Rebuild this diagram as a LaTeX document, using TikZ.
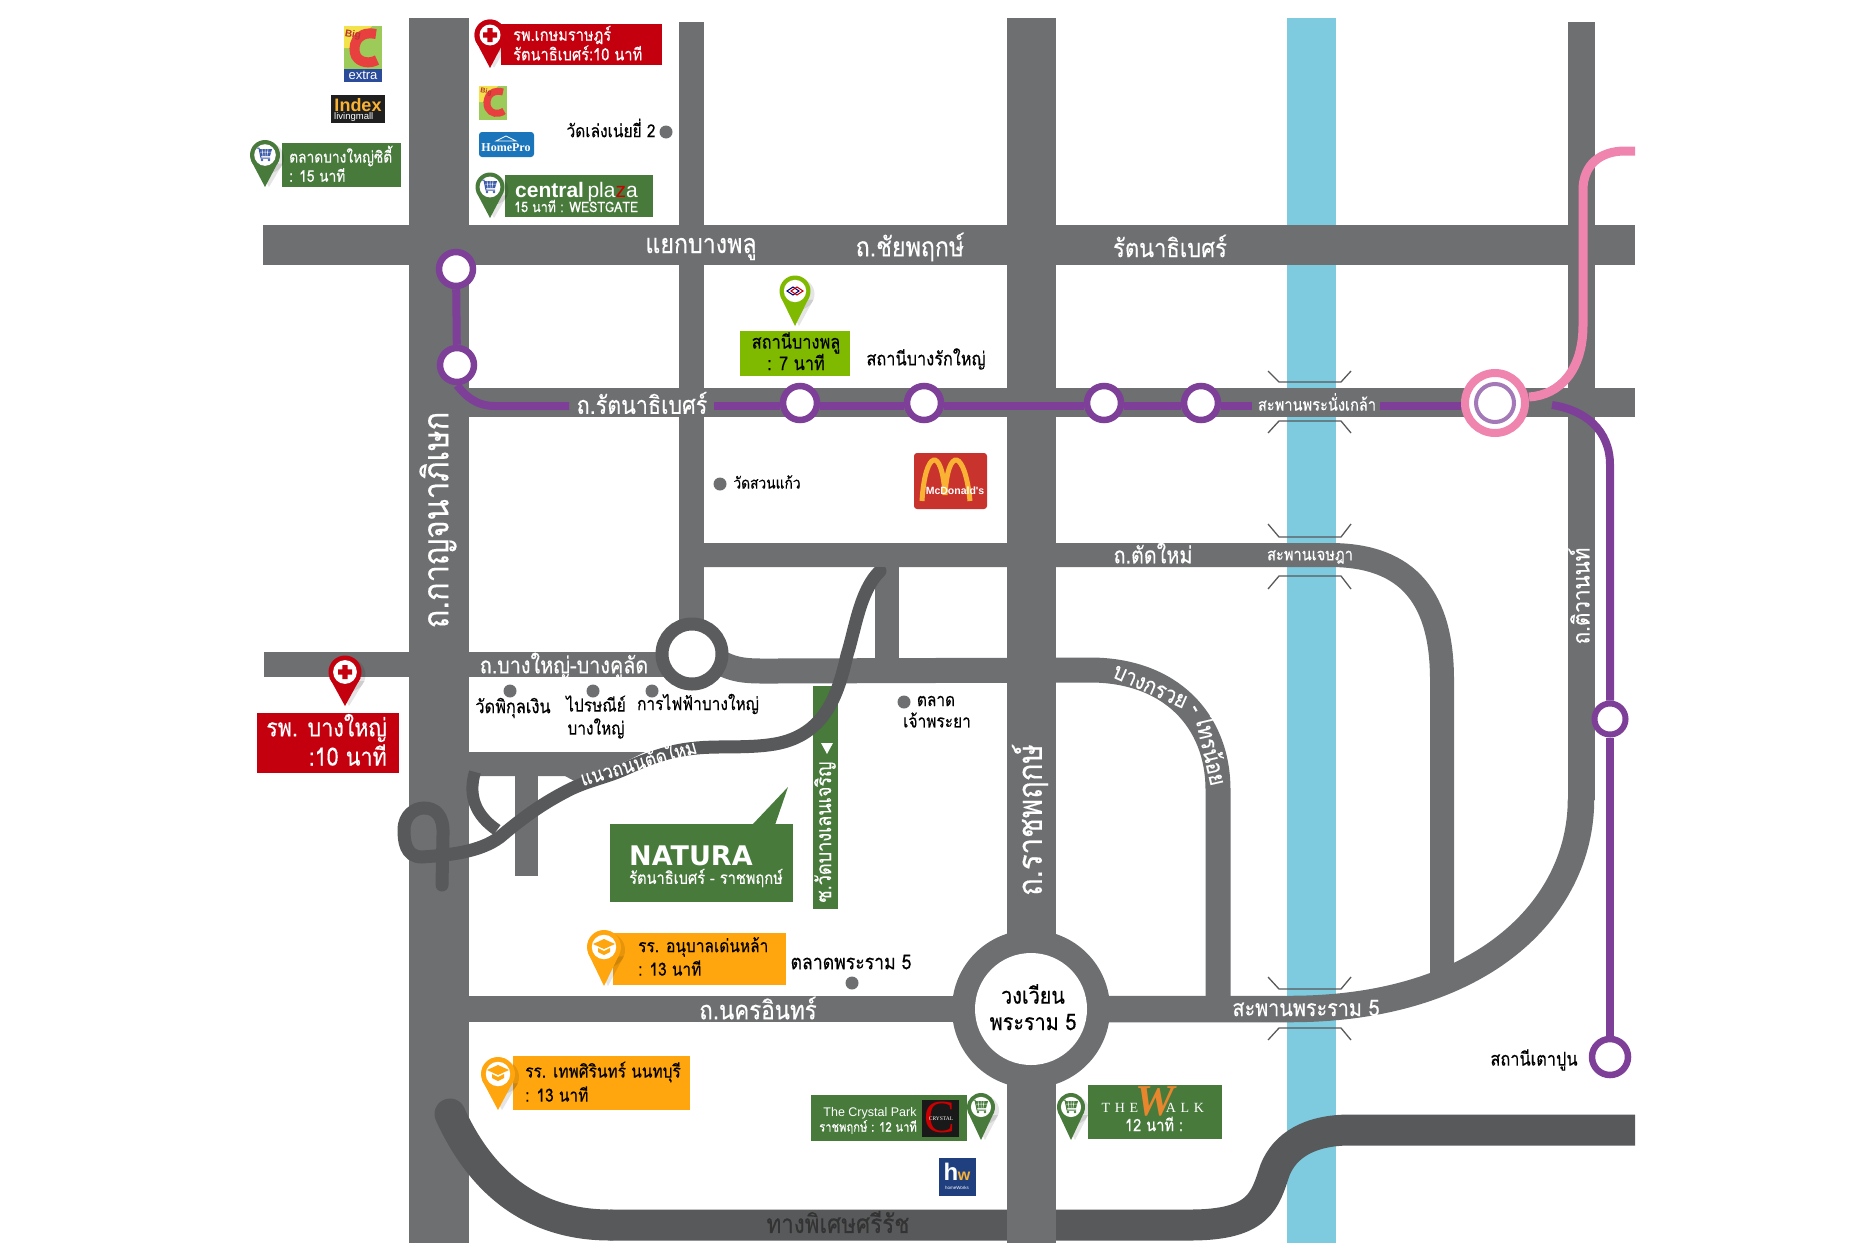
\documentclass[tikz,border=0pt]{standalone}
\usepackage{fontspec}
\setmainfont[Script=Thai,FakeStretch=0.86,FakeBold=0.35]{Loma}
\newfontfamily\logosans{Liberation Sans}
\newfontfamily\logoserif{Liberation Serif}
\newfontfamily\wideb{DejaVu Sans}
\usetikzlibrary{calc}
\definecolor{roadc}{HTML}{6D6F71}
\definecolor{darkroad}{HTML}{58595B}
\definecolor{rivc}{HTML}{7ECBDF}
\definecolor{purp}{HTML}{7D3F98}
\definecolor{pinkc}{HTML}{EF84AF}
\definecolor{greenc}{HTML}{477A3B}
\definecolor{lime}{HTML}{7FBA00}
\definecolor{redc}{HTML}{C4000F}
\definecolor{orangec}{HTML}{FFA50D}
\definecolor{bigg}{HTML}{9CCB5A}
\definecolor{bigy}{HTML}{F2E34C}
\definecolor{bigr}{HTML}{E8403F}
\definecolor{bigb}{HTML}{2B4C9B}
\definecolor{mcr}{HTML}{C8332E}
\definecolor{mcy}{HTML}{F9B233}
\definecolor{hwb}{HTML}{1F3F7F}
\definecolor{hpb}{HTML}{1B75BB}
\definecolor{cartb}{HTML}{3B5BA9}
\definecolor{walko}{HTML}{E8862E}
\newcommand\fs[1]{\fontsize{#1}{#1}\selectfont}
\newcommand\mappin[5]{%
 \fill[black,opacity=.10] (#1+4,#2+3) circle (#3);
 \fill[black,opacity=.10] ({#1+4-.93*#3},{#2+3+.37*#3}) -- (#1+4,#4) -- ({#1+4+.93*#3},{#2+3+.37*#3}) -- cycle;
 \fill[#5] (#1,#2) circle (#3);
 \fill[#5] ({#1-.93*#3},{#2+.37*#3}) -- (#1,#4) -- ({#1+.93*#3},{#2+.37*#3}) -- cycle;
 \fill[white] (#1,#2) circle ({.72*#3});}
\newcommand\cartat[3]{%
 \fill[#3] (#1-6,#2-5) -- (#1+7,#2-5) -- (#1+5,#2+2) -- (#1-4,#2+2) -- cycle;
 \draw[#3,line width=1] (#1-8,#2-6) -- (#1-6,#2-6) -- (#1-4,#2+4) -- (#1+5,#2+4);
 \fill[#3] (#1-3,#2+6) circle (1.4) (#1+4,#2+6) circle (1.4);
 \draw[white,line width=.5] (#1-3,#2-5) -- (#1-2,#2+2) (#1,#2-5) -- (#1,#2+2) (#1+3,#2-5) -- (#1+2,#2+2) (#1-5,#2-2) -- (#1+6,#2-2);}
\newcommand\crossat[2]{\fill[redc] (#1-7,#2-2.6) rectangle (#1+7,#2+2.6) (#1-2.6,#2-7) rectangle (#1+2.6,#2+7);}
\newcommand\capat[2]{%
 \fill[orangec] (#1-11,#2-2) -- (#1,#2-7) -- (#1+11,#2-2) -- (#1,#2+3) -- cycle;
 \fill[orangec] (#1-6,#2+2) -- (#1,#2+5) -- (#1+6,#2+2) -- (#1+6,#2+6) -- (#1,#2+9) -- (#1-6,#2+6) -- cycle;}
\tikzset{
 x=1pt,y=-1pt,
 road/.style={draw=roadc,line width=#1},
 road/.default=26,
 droad/.style={draw=darkroad,line width=#1},
 roadlab/.style={text=white,inner sep=0pt,font=\fs{#1}},
 blklab/.style={text=black,inner sep=0pt,font=\fs{#1}},
 station/.style={circle,draw=purp,line width=6.5,fill=white,minimum size=34,inner sep=0pt},
 pline/.style={draw=purp,line width=8},
 bridge/.style={draw=darkroad,line width=1.3},
 dotm/.style={circle,fill=roadc,inner sep=0pt,minimum size=13},
 boxlab/.style={inner sep=0pt,anchor=west,align=left}
}
\begin{document}
\begin{tikzpicture}
\useasboundingbox (0,0) rectangle (1862,1250);
% river
\fill[rivc] (1287,18) rectangle (1336,1243);
% straight roads
\fill[roadc] (263,225) rectangle (1635,265);
\fill[roadc] (469,388) rectangle (1635,417);
\fill[roadc] (264,652) rectangle (670,677);
\fill[roadc] (679,22) rectangle (704,640);
\fill[roadc] (469,752) -- (645,752) -- (580,784) -- (565,776) -- (469,776) -- cycle;
\fill[roadc] (515,760) rectangle (538,876);
\fill[roadc] (469,996) rectangle (960,1022);
\fill[roadc] (875,560) rectangle (899,670);
\draw[road=24] (700,555) -- (1330,555) .. controls (1410,555) and (1442,600) .. (1442,680) -- (1442,975);
\draw[road=25] (716,660) .. controls (735,672) and (750,671) .. (775,671) -- (1090,670) .. controls (1170,670) and (1218,720) .. (1218,790) -- (1218,1005);
\fill[roadc] (1568,22) rectangle (1595,800);
\draw[road=26.5] (1100,1009) -- (1290,1009) .. controls (1480,1009) and (1581,910) .. (1581,799);
\fill[roadc] (409,18) rectangle (469,1243);
% highway
\draw[droad=31] (610,1225) -- (1190,1225) .. controls (1260,1225) and (1265,1200) .. (1275,1170) .. controls (1285,1145) and (1310,1130) .. (1350,1130) -- (1635,1130);
\draw[droad=31,line cap=round] (450,1114) .. controls (480,1180) and (530,1225) .. (610,1225);
\fill[roadc] (1007,18) rectangle (1056,1243);
% roundabouts
\fill[roadc] (1031,1009) circle (79);
\node[circle,fill=white,minimum size=112,inner sep=0pt] (rama5) at (1031,1009) {};
\node[circle,draw=darkroad!85!roadc,line width=13,fill=white,minimum size=60,inner sep=0pt] (rbsmall) at (692,654) {};
% soi
\fill[greenc] (813,686) rectangle (838,909);
% new road
\draw[droad=12] (475,772) .. controls (468,795) and (475,815) .. (497,830);
\draw[droad=13,line cap=round] (880,571) .. controls (860,590) and (855,630) .. (847,655) .. controls (838,695) and (825,735) .. (775,744) .. controls (745,749) and (715,745) .. (688,749) .. controls (665,752) and (645,760) .. (625,769) .. controls (605,778) and (585,781) .. (565,792) .. controls (540,805) and (520,820) .. (500,837) .. controls (480,852) and (450,855) .. (422,857) .. controls (405,857) and (404,840) .. (404,830) .. controls (404,815) and (415,808) .. (424,808) .. controls (435,808) and (444,815) .. (443,835) -- (442,885);
\fill[roadc] (860,543) rectangle (900,567);
% bridges
\foreach \ya/\yb in {371/382,433/421,524/537,589/576,977/989,1040/1028}
 \draw[bridge] (1268,\ya) -- (1279,\yb) -- (1341,\yb) -- (1351,\ya);
\coordinate (pinkend) at (1635,151);
% stations
\node[station] (s1) at (456,269) {};
\node[station] (s2) at (457,365) {};
\node[station] (s3) at (800,403) {};
\node[station] (s4) at (924,403) {};
\node[station] (s5) at (1104,403) {};
\node[station] (s6) at (1201,403) {};
\node[circle,draw=pinkc,line width=8,fill=white,minimum size=60,inner sep=0pt] (hub) at (1495,403) {};
\node[circle,draw=purp!70!white,line width=4,minimum size=38,inner sep=0pt] (hubin) at (1495,403) {};
\node[station,minimum size=31,line width=6] (s7) at (1610,719) {};
\node[station,minimum size=36] (s8) at (1610,1057) {};
\coordinate (gapa) at (569,406);
\coordinate (gapb) at (714,406);
\coordinate (gapc) at (1252,406);
\coordinate (gapd) at (1380,406);
\coordinate (purpstart) at (1552,405);
\draw[pline] (s1) -- (s2);
\draw[pline] (s2.south) .. controls (465,395) and (475,406) .. (495,406) -- (gapa);
\draw[pline] (gapb) -- ([yshift=-3pt]s3.west);
\draw[pline] ([yshift=-3pt]s3.east) -- ([yshift=-3pt]s4.west);
\draw[pline] ([yshift=-3pt]s4.east) -- ([yshift=-3pt]s5.west);
\draw[pline] ([yshift=-3pt]s5.east) -- ([yshift=-3pt]s6.west);
\draw[pline] ([yshift=-3pt]s6.east) -- (gapc);
\draw[pline] (gapd) -- ([yshift=-3pt]hub.west);
\draw[draw=pinkc,line width=9] (hub.east) ++(0,-6) .. controls (1560,395) and (1583,370) .. (1583,325) -- (1583,190) .. controls (1583,165) and (1600,151) .. (1625,151) -- (pinkend);
\draw[pline] (purpstart) .. controls (1585,410) and (1610,430) .. (1610,465) -- (s7);
\draw[pline] (s7) -- (s8);
% road labels
\node[roadlab=27] (l1) at (701,249) {แยกบางพลู};
\node[roadlab=27] (l2) at (910,247) {ถ.ชัยพฤกษ์};
\node[roadlab=25.5] (l3) at (1170,246) {รัตนาธิเบศร์};
\node[roadlab=25] (l4) at (642,403) {ถ.รัตนาธิเบศร์};
\node[roadlab=17] (l5) at (1317,402) {สะพานพระนั่งเกล้า};
\node[roadlab=23] (l7) at (1153,553) {ถ.ตัดใหม่};
\node[roadlab=17] (l8) at (1310,557) {สะพานเจษฎา};
\node[roadlab=23] (l9) at (564,666) {ถ.บางใหญ่-บางคูลัด};
\node[roadlab=36,rotate=90] (l6) at (438,520) {ถ.กาญจนาภิเษก};
\node[roadlab=24,rotate=90] (l10) at (1579,596) {ถ.ติวานนท์};
\node[roadlab=23,rotate=-24] (l11) at (1150,687) {บางกรวย};
\node[roadlab=23,rotate=-60] (l12) at (1193,710) {-};
\node[roadlab=23,rotate=-77] (l13) at (1213,750) {ไทรน้อย};
\node[roadlab=34,rotate=90] (l14) at (1030,820) {ถ.ราชพฤกษ์};
\node[roadlab=23] (l15) at (1306,1008) {สะพานพระราม 5};
\node[roadlab=26] (l16) at (758,1008) {ถ.นครอินทร์};
\node[roadlab=20,rotate=16] (l17) at (638,761) {แนวถนนตัดใหม่};
\node[blklab=26,text=black!80] (l18) at (838,1222) {ทางพิเศษศรีรัช};
\node[blklab=23] (l19) at (1033,994) {วงเวียน};
\node[blklab=23] (l20) at (1033,1022) {พระราม 5};
\node[roadlab=21,rotate=90,text=white] (l21) at (825,832) {ซ.วัดบางเลนเจริญ};
\fill[white] (821,743) -- (833,743) -- (827,754) -- cycle;
% black labels with dots
\node[blklab=18] (t1) at (611,128) {วัดเล่งเน่ยยี่ 2};
\node[dotm] (d1) at (666,132) {};
\node[dotm] (d2) at (720,484) {};
\node[blklab=16] (t2) at (767,482) {วัดสวนแก้ว};
\node[dotm] (d3) at (510,691) {};
\node[blklab=19] (t3) at (513,708) {วัดพิกุลเงิน};
\node[dotm] (d4) at (593,691) {};
\node[blklab=18,align=center] (t4) at (596,717) {ไปรษณีย์\\[5pt]บางใหญ่};
\node[dotm] (d5) at (652,691) {};
\node[blklab=18] (t5) at (698,704) {การไฟฟ้าบางใหญ่};
\node[dotm] (d6) at (904,702) {};
\node[blklab=18] (t6) at (936,701) {ตลาด};
\node[blklab=18] (t7) at (937,720) {เจ้าพระยา};
\node[blklab=20.5] (t8) at (851,962) {ตลาดพระราม 5};
\node[dotm] (d7) at (852,983) {};
\node[blklab=19] (t9) at (926,359) {สถานีบางรักใหญ่};
\node[blklab=19] (t10) at (1534,1060) {สถานีเตาปูน};
% red kasemrad
\mappin{490}{35}{15.5}{68}{redc}
\fill[redc] (501,24) rectangle (662,65);
\fill[redc] (490,35) circle (15.5);
\fill[white] (490,35) circle (10.5);
\crossat{490}{35}
\node[boxlab,text=white,font=\fs{17}] (b1) at (513,35) {รพ.เกษมราษฎร์};
\node[boxlab,text=white,font=\fs{17}] (b2) at (513,53) {รัตนาธิเบศร์:10 นาที};
% green bangyai city
\fill[greenc] (282,143) rectangle (401,187);
\mappin{265}{155}{15}{187}{greenc}
\cartat{265}{154}{cartb}
\node[boxlab,text=white,font=\fs{16}] (b3) at (289,156) {ตลาดบางใหญ่ซิตี้};
\node[boxlab,text=white,font=\fs{16}] (b4) at (289,175) {: 15 นาที};
% central plaza
\fill[greenc] (505,175) rectangle (653,217);
\mappin{490}{187}{14.5}{218}{greenc}
\cartat{490}{186}{cartb}
\node[boxlab,text=white,font=\logosans\fs{21}] (b5) at (515,192) {\textbf{central}\,pla{\color{red!80!black}z}a};
\node[boxlab,text=white,font=\fs{14.5}] (b6) at (514,206) {15 นาที : WESTGATE};
% logos
\fill[bigg] (344,26) rectangle (382,70);
\fill[bigy] (344,26) -- (372,26) -- (350,48) -- (344,48) -- cycle;
\draw[bigr,line width=10] (376,34) .. controls (355,30) and (352,48) .. (356,56) .. controls (360,63) and (370,64) .. (377,60);
\node[inner sep=0pt,text=bigr!80!black,font=\logosans\bfseries\fs{10},rotate=-10] (bc1) at (353,35) {Big};
\fill[bigb] (344,69) rectangle (382,82);
\node[inner sep=0pt,text=white,font=\logosans\fs{13}] (bc2) at (363,75) {extra};
\fill[black!88] (331,95) rectangle (385,123);
\node[inner sep=0pt,text=mcy,font=\logosans\bfseries\fs{18}] (ix1) at (358,105) {Index};
\node[inner sep=0pt,anchor=west,text=white,font=\logosans\fs{9.5}] (ix2) at (334,117) {livingmall};
\fill[bigg] (479,86) rectangle (507,120);
\fill[bigy] (479,86) -- (498,86) -- (483,102) -- (479,102) -- cycle;
\draw[bigr,line width=7] (503,92) .. controls (488,88) and (485,102) .. (488,108) .. controls (491,114) and (498,115) .. (504,111);
\node[inner sep=0pt,text=bigr!80!black,font=\logosans\bfseries\fs{7},rotate=-10] (bc3) at (486,92) {Big};
\fill[hpb,rounded corners=3] (479,132) rectangle (534,157);
\node[inner sep=0pt,text=white,font=\logoserif\bfseries\fs{12}] (hp) at (506,148) {HomePro};
\draw[white,line width=.7] (496,141) -- (506,136) -- (516,141) -- cycle;
% station box
\mappin{795}{291}{15.5}{326}{lime}
\draw[blue!50!black,line width=1] (787,291) -- (793,287) -- (799,291) -- (793,295) -- cycle;
\draw[red!80!black,line width=1] (791,291) -- (797,287) -- (803,291) -- (797,295) -- cycle;
\fill[lime] (740,331) rectangle (850,376);
\node[blklab=19] (b7) at (796,343) {สถานีบางพลู};
\node[blklab=19] (b8) at (796,362) {: 7 นาที};
% McDonalds
\fill[mcr,rounded corners=3] (914,453) rectangle (987,509);
\draw[mcy,line width=5] (922,501) .. controls (925,450) and (942,445) .. (945,495) (945,495) .. controls (948,445) and (965,450) .. (970,501);
\node[inner sep=0pt,text=white,font=\logosans\bfseries\fs{10.5}] (mc) at (955,491) {McDonald's};
% bangyai hospital
\mappin{345}{672}{16.5}{706}{redc}
\crossat{345}{672}
\fill[redc] (257,713) rectangle (399,773);
\node[inner sep=0pt,anchor=east,text=white,font=\fs{25}] (b9) at (387,728) {รพ. บางใหญ่};
\node[inner sep=0pt,anchor=east,text=white,font=\fs{25}] (b10) at (387,755) {:10 นาที};
% natura
\fill[greenc] (610,824) rectangle (793,902);
\fill[greenc] (752,825) -- (788,787) -- (775,825) -- cycle;
\node[inner sep=0pt,anchor=west,text=white,font=\wideb\bfseries\fs{27}] (b11) at (629,856) {NATURA};
\node[inner sep=0pt,anchor=west,text=white,font=\fs{17}] (b12) at (629,878) {รัตนาธิเบศร์ - ราชพฤกษ์};
% anuban
\fill[orangec] (613,933) rectangle (786,985);
\mappin{604}{947}{17}{986}{orangec}
\capat{604}{946}
\node[boxlab,font=\fs{18}] (b13) at (638,947) {รร. อนุบาลเด่นหล้า};
\node[boxlab,font=\fs{18}] (b14) at (638,968) {: 13 นาที};
% debsirin
\fill[orangec] (513,1056) rectangle (690,1110);
\mappin{498}{1074}{17}{1110}{orangec}
\capat{498}{1072}
\node[boxlab,font=\fs{18}] (b15) at (525,1072) {รร. เทพศิรินทร์ นนทบุรี};
\node[boxlab,font=\fs{18}] (b16) at (525,1094) {: 13 นาที};
% crystal
\fill[greenc] (811,1095) rectangle (967,1141);
\node[inner sep=0pt,text=white,font=\logosans\fs{12.5}] (b17) at (870,1113) {The Crystal Park};
\node[inner sep=0pt,text=white,font=\fs{13}] (b18) at (868,1127) {ราชพฤกษ์ : 12 นาที};
\fill[black!90] (922,1100) rectangle (959,1137);
\node[inner sep=0pt,text=red!80!black,font=\logoserif\fs{46}] (b19) at (940,1117) {C};
\node[inner sep=0pt,text=white,font=\logoserif\fs{5.5}] (b20) at (941,1119) {CRYSTAL};
\mappin{981}{1107}{14}{1140}{greenc}
\cartat{981}{1106}{greenc}
\mappin{1071}{1107}{14}{1140}{greenc}
\cartat{1071}{1106}{greenc}
% walk
\fill[greenc] (1088,1085) rectangle (1222,1139);
\node[inner sep=0pt,text=white,font=\logoserif\fs{14}] (b21) at (1120,1108) {T\,\,H\,\,E};
\node[inner sep=0pt,text=walko,font=\logoserif\bfseries\itshape\fs{44}] (b22) at (1155,1101) {W};
\node[inner sep=0pt,text=white,font=\logoserif\fs{14}] (b23) at (1185,1108) {A\,\,L\,\,K};
\node[inner sep=0pt,text=white,font=\fs{17}] (b24) at (1154,1124) {12 นาที :};
% homeworks
\fill[hwb] (939,1158) rectangle (976,1196);
\node[inner sep=0pt,text=white,font=\logosans\bfseries\fs{24}] (hw1) at (951,1172) {h};
\node[inner sep=0pt,text=mcy,font=\logosans\bfseries\fs{16}] (hw2) at (964,1176) {w};
\node[inner sep=0pt,text=white,font=\logosans\fs{4.5}] (hw3) at (957,1188) {homeWorks};
\end{tikzpicture}
\end{document}
